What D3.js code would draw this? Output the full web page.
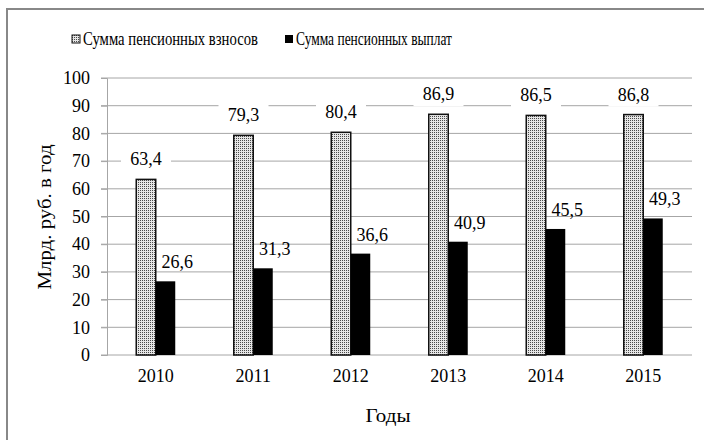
<!DOCTYPE html>
<html>
<head>
<meta charset="utf-8">
<script src="https://cdnjs.cloudflare.com/ajax/libs/d3/7.8.5/d3.min.js"></script>
<style>
body { margin: 0; background: #fff; }
text { font-family: "Liberation Serif", "Times New Roman", "DejaVu Serif", serif; fill: #000; }
</style>
</head>
<body>
<svg id="chart" width="704" height="440"></svg>
<script>
var years = ['2010', '2011', '2012', '2013', '2014', '2015'];
var contributions = [63.4, 79.3, 80.4, 86.9, 86.5, 86.8];
var payments = [26.6, 31.3, 36.6, 40.9, 45.5, 49.3];
var seriesNames = ['Сумма пенсионных взносов', 'Сумма пенсионных выплат'];
var yTicks = [0, 10, 20, 30, 40, 50, 60, 70, 80, 90, 100];

var svg = d3.select('#chart');
var plotLeft = 107, plotRight = 692, plotTop = 78, plotBottom = 355;
var fs = 18;
var serif = '"Liberation Serif", "Times New Roman", "DejaVu Serif", serif';

// dotted fill for the first series
var defs = svg.append('defs');
var pat = defs.append('pattern')
    .attr('id', 'dots')
    .attr('width', 2).attr('height', 2)
    .attr('patternUnits', 'userSpaceOnUse');
pat.append('rect').attr('width', 2).attr('height', 2).attr('fill', '#e6e6e6');
pat.append('rect').attr('width', 1).attr('height', 1).attr('fill', '#4a4a4a');

// outer frame
svg.append('rect')
    .attr('x', 7).attr('y', 9)
    .attr('width', 760).attr('height', 500)
    .attr('fill', 'none')
    .attr('stroke', '#888')
    .attr('stroke-width', 2);

var x = d3.scaleBand().domain(years).range([plotLeft, plotRight]);
var y = d3.scaleLinear().domain([0, 100]).range([plotBottom, plotTop]);
var bw = x.bandwidth() * 0.2;
var fmt = function (v) { return d3.format('.1f')(v).replace('.', ','); };

// grid
svg.append('g').selectAll('line')
    .data(yTicks)
    .enter().append('line')
    .attr('x1', plotLeft - 6).attr('x2', plotRight)
    .attr('y1', function (d) { return y(d); })
    .attr('y2', function (d) { return y(d); })
    .attr('stroke', '#a6a6a6')
    .attr('stroke-width', 1);

var yAxis = svg.append('g')
    .attr('transform', 'translate(' + plotLeft + ',0)')
    .call(d3.axisLeft(y).tickValues(yTicks).tickSize(6).tickPadding(11));
yAxis.select('.domain').attr('stroke', '#a6a6a6');
yAxis.selectAll('.tick line').attr('stroke', '#a6a6a6');
yAxis.selectAll('text').style('font-size', fs + 'px').style('font-family', serif);

var xAxis = svg.append('g')
    .attr('transform', 'translate(0,' + plotBottom + ')')
    .call(d3.axisBottom(x).tickSize(0).tickPadding(14));
xAxis.select('.domain').remove();
xAxis.selectAll('text').style('font-size', fs + 'px').style('font-family', serif);

// bars
var groups = svg.append('g').selectAll('g')
    .data(years)
    .enter().append('g');

groups.append('rect')
    .attr('x', function (d) { return x(d) + x.bandwidth() / 2 - bw; })
    .attr('y', function (d, i) { return y(contributions[i]); })
    .attr('width', bw)
    .attr('height', function (d, i) { return plotBottom - y(contributions[i]); })
    .attr('fill', 'url(#dots)')
    .attr('stroke', '#111')
    .attr('stroke-width', 1.5);

groups.append('rect')
    .attr('x', function (d) { return x(d) + x.bandwidth() / 2; })
    .attr('y', function (d, i) { return y(payments[i]); })
    .attr('width', bw)
    .attr('height', function (d, i) { return plotBottom - y(payments[i]); })
    .attr('fill', '#000');

// value labels; the first series sits on a white box
groups.each(function (d, i) {
    var g = d3.select(this);
    var cx = x(d) + x.bandwidth() / 2 - bw / 2;
    var by = y(contributions[i]) - 14;
    g.append('rect')
        .attr('x', cx - 25).attr('y', by - 17)
        .attr('width', 50).attr('height', 23)
        .attr('fill', '#fff');
    g.append('text')
        .attr('x', cx).attr('y', by)
        .attr('text-anchor', 'middle')
        .style('font-size', fs + 'px')
        .text(fmt(contributions[i]));
    g.append('text')
        .attr('x', x(d) + x.bandwidth() / 2 + bw / 2 - 4)
        .attr('y', y(payments[i]) - 13)
        .attr('text-anchor', 'start')
        .style('font-size', fs + 'px')
        .text(fmt(payments[i]));
});

// axis titles
svg.append('text')
    .attr('x', 388).attr('y', 422)
    .attr('text-anchor', 'middle')
    .attr('textLength', 45)
    .attr('lengthAdjust', 'spacingAndGlyphs')
    .style('font-size', fs + 'px')
    .text('Годы');
svg.append('text')
    .attr('transform', 'translate(51,217) rotate(-90)')
    .attr('text-anchor', 'middle')
    .attr('textLength', 145)
    .attr('lengthAdjust', 'spacingAndGlyphs')
    .style('font-size', fs + 'px')
    .text('Млрд. руб.  в год');

// legend
var legendX = [72, 285];
var legendW = [175, 156];
var legend = svg.append('g').selectAll('g')
    .data(seriesNames)
    .enter().append('g')
    .attr('transform', function (d, i) { return 'translate(' + legendX[i] + ',35)'; });
legend.append('rect')
    .attr('width', 8).attr('height', 8)
    .attr('fill', function (d, i) { return i === 0 ? 'url(#dots)' : '#000'; })
    .attr('stroke', function (d, i) { return i === 0 ? '#111' : 'none'; })
    .attr('stroke-width', 1);
legend.append('text')
    .attr('x', 11).attr('y', 10)
    .attr('textLength', function (d, i) { return legendW[i]; })
    .attr('lengthAdjust', 'spacingAndGlyphs')
    .style('font-size', fs + 'px')
    .text(function (d) { return d; });
</script>
</body>
</html>
